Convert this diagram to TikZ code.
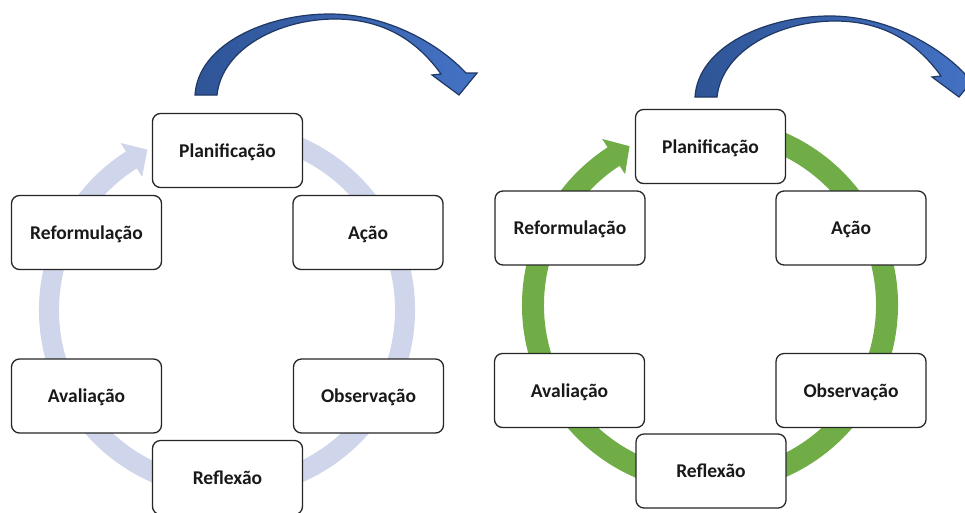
\documentclass[tikz,border=0pt]{standalone}
\usepackage{fontspec}
\setmainfont{Carlito}
\usetikzlibrary{calc}
\definecolor{lav}{HTML}{CFD5EA}
\definecolor{grn}{HTML}{70AD47}
\definecolor{blueL}{HTML}{2F5597}
\definecolor{blueR}{HTML}{4472C4}
\definecolor{blueE}{HTML}{1F3864}
\definecolor{edge}{HTML}{262626}
\tikzset{
  stage/.style={draw=edge, line width=1.3pt, fill=white, rounded corners=8pt,
    minimum width=150pt, minimum height=74pt, inner sep=0pt,
    text height=13pt, text depth=0pt,
    font=\fontsize{19.5}{23}\selectfont\bfseries, text=black!90},
  bluearc/.pic={
    \path[draw=blueE, line width=1.2pt, left color=blueL, right color=blueR, line join=miter]
      (195,95) .. controls (198,45) and (265,14) .. (330,14)
      .. controls (385,14) and (437,42) .. (466,73)
      -- (477,73) -- (459,95) -- (432,75) -- (441,74)
      .. controls (418,42) and (385,19) .. (335,19)
      .. controls (280,19) and (222,48) .. (217,95) -- cycle;
  }
}
\begin{document}
\begin{tikzpicture}[x=1pt,y=-1pt]
\useasboundingbox (0,0) rectangle (965,512);
\clip (0,0) rectangle (965,512);
\fill[white] (0,0) rectangle (965,512);

% blue curved arrows
\pic at (0,0) {bluearc};
\pic at (500,2) {bluearc};

% left ring
\coordinate (cL) at (227,310);
\draw[lav, line width=20pt] ($(cL)+(-80:178)$) arc[start angle=-80, end angle=238.5, radius=178];
\fill[lav] ($(cL)+(237.5:158)$) -- ($(cL)+(237.5:198)$) -- ($(cL)+(237.5:178)+(327.5:19)$) -- cycle;

% right ring
\coordinate (cR) at (710,305);
\draw[grn, line width=22pt] ($(cR)+(-80:177)$) arc[start angle=-80, end angle=238, radius=177];
\fill[grn] ($(cR)+(237:156)$) -- ($(cR)+(237:198)$) -- ($(cR)+(237:177)+(327:19)$) -- cycle;

% left boxes
\node[stage] (l1) at (227.5,150.5) {Planificação};
\node[stage] (l2) at (368,232.5) {Ação};
\node[stage] (l3) at (368.5,396) {Observação};
\node[stage] (l4) at (227.5,477.5) {Reflexão};
\node[stage] (l5) at (86.5,396) {Avaliação};
\node[stage] (l6) at (86.5,232.5) {Reformulação};

% right boxes
\node[stage] (r1) at (710.5,146.5) {Planificação};
\node[stage] (r2) at (851,228) {Ação};
\node[stage] (r3) at (851,390.5) {Observação};
\node[stage] (r4) at (711,471) {Reflexão};
\node[stage] (r5) at (569.5,390.5) {Avaliação};
\node[stage] (r6) at (570,228) {Reformulação};
\end{tikzpicture}
\end{document}
